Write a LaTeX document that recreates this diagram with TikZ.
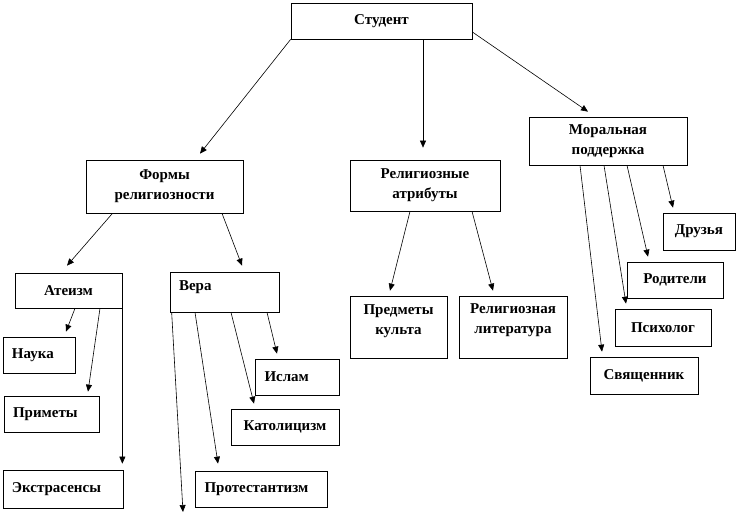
\documentclass[tikz,border=0pt]{standalone}
\usepackage{fontspec}
\setmainfont{Liberation Serif}
\usetikzlibrary{arrows.meta}
\tikzset{
  box/.style={draw=black, line width=0.7pt, fill=white, inner xsep=9pt, inner ysep=2pt,
    font=\bfseries\fontsize{15}{20}\selectfont, align=center},
  lbox/.style={box, align=left},
  conn/.style={draw=black, line width=0.6pt, -{Triangle[length=7pt,width=6pt]}}
}
\begin{document}
\begin{tikzpicture}[x=1pt,y=-1pt]
\useasboundingbox (0,0) rectangle (738,516);
% level 0
\node[box, minimum width=181pt, minimum height=36pt] (stud) at (381.5,21) {Студент};
% level 1
\node[box, minimum width=157pt, minimum height=53pt] (formy) at (164.5,186.5) {Формы\\религиозности};
\node[box, minimum width=150pt, minimum height=51pt] (relig) at (425,185.5) {Религиозные\\атрибуты};
\node[box, minimum width=158pt, minimum height=48pt] (moral) at (608,141) {Моральная\\поддержка};
% level 2
\node[box, minimum width=107pt, minimum height=35pt] (ateizm) at (68.5,290.5) {Атеизм};
\node[lbox, text width=91pt, minimum width=109pt, minimum height=40pt, text depth=12pt] (vera) at (224.5,292) {Вера};
\node[box, minimum width=97pt, minimum height=62pt, text depth=14pt] (predm) at (398.5,327) {Предметы\\культа};
\node[box, minimum width=108pt, minimum height=62pt, text depth=16pt] (rlit) at (513,327) {Религиозная\\литература};
% atheism children
\node[lbox, text width=54pt, minimum width=72pt, minimum height=36pt] (nauka) at (39,355) {Наука};
\node[lbox, text width=77pt, minimum width=95pt, minimum height=36pt] (primety) at (51.5,414) {Приметы};
\node[lbox, text width=102pt, minimum width=120pt, minimum height=38pt] (ekstra) at (63,489) {Экстрасенсы};
% faith children
\node[lbox, text width=65pt, minimum width=84pt, minimum height=36pt] (islam) at (297,377) {Ислам};
\node[box, minimum width=108pt, minimum height=36pt] (kat) at (285,427) {Католицизм};
\node[lbox, text width=113pt, minimum width=132pt, minimum height=36pt] (prot) at (261,489) {Протестантизм};
% moral support children
\node[box, minimum width=72pt, minimum height=37pt] (druz) at (699,231.5) {Друзья};
\node[box, minimum width=96pt, minimum height=36pt] (rod) at (675,280) {Родители};
\node[box, minimum width=96pt, minimum height=37pt] (psych) at (663,327.5) {Психолог};
\node[box, minimum width=108pt, minimum height=37pt] (svyas) at (644,375.5) {Священник};
\coordinate (veraend) at (183,512);
% connectors
\draw[conn] (stud.south west) -- ([xshift=35.5pt,yshift=6pt]formy.north);
\draw[conn] ([xshift=41.5pt]stud.south) -- ([xshift=-2pt,yshift=12pt]relig.north);
\draw[conn] ([yshift=-11pt]stud.east) -- ([xshift=-20pt,yshift=5pt]moral.north);
\draw[conn] ([xshift=-52pt]formy.south) -- ([xshift=-1.5pt,yshift=7pt]ateizm.north);
\draw[conn] ([xshift=57.5pt]formy.south) -- ([xshift=17.5pt,yshift=6pt]vera.north);
\draw[conn] ([xshift=-15pt]relig.south) -- ([xshift=-8.5pt,yshift=5pt]predm.north);
\draw[conn] ([xshift=47pt]relig.south) -- ([xshift=-20pt,yshift=5pt]rlit.north);
\draw[conn] ([xshift=-28pt]moral.south) -- ([xshift=-42pt,yshift=5pt]svyas.north);
\draw[conn] ([xshift=-4pt]moral.south) -- ([xshift=-37pt,yshift=5pt]psych.north);
\draw[conn] ([xshift=19pt]moral.south) -- ([xshift=-27pt,yshift=5pt]rod.north);
\draw[conn] ([xshift=55pt]moral.south) -- ([xshift=-26pt,yshift=5pt]druz.north);
\draw[conn] ([xshift=6.5pt]ateizm.south) -- ([xshift=27pt,yshift=5pt]nauka.north);
\draw[conn] ([xshift=31.5pt]ateizm.south) -- ([xshift=36.5pt,yshift=4pt]primety.north);
\draw[conn] ([yshift=-11pt]ateizm.east) -- ([xshift=-1pt,yshift=6pt]ekstra.north east);
\draw[conn] ([xshift=2pt]vera.south west) -- (veraend);
\draw[conn] ([xshift=-29.5pt]vera.south) -- ([xshift=-43pt,yshift=7pt]prot.north);
\draw[conn] ([xshift=6.5pt]vera.south) -- ([xshift=-31pt,yshift=5pt]kat.north);
\draw[conn] ([xshift=42.5pt]vera.south) -- ([xshift=-20pt,yshift=5pt]islam.north);
\end{tikzpicture}
\end{document}
